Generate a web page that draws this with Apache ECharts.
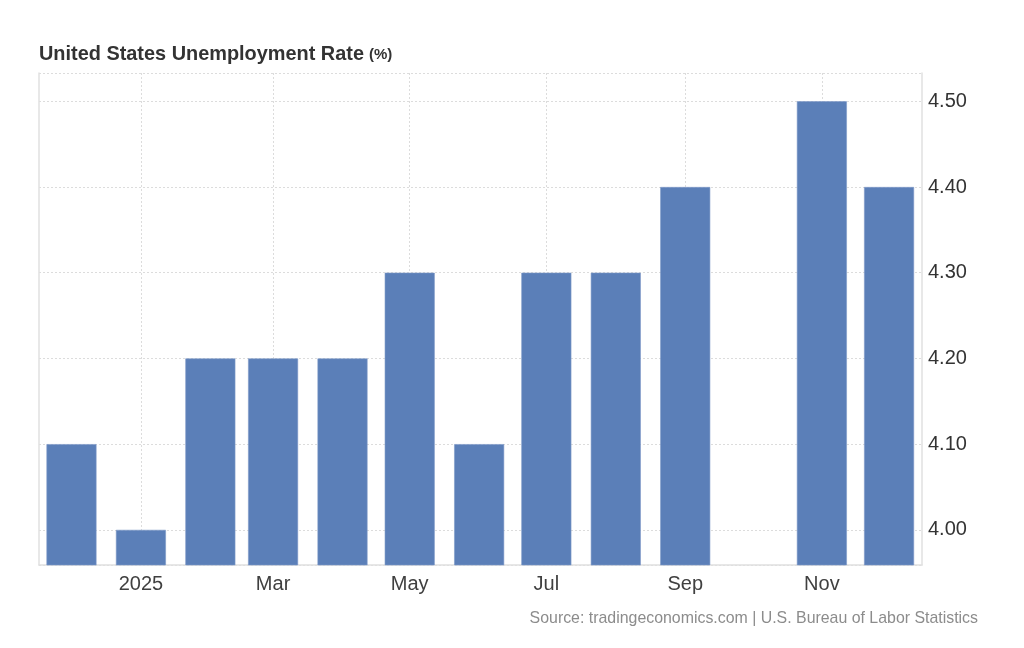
<!DOCTYPE html>
<html>
<head>
<meta charset="utf-8">
<script src="https://cdn.jsdelivr.net/npm/echarts@6/dist/echarts.min.js"></script>
<style>
html,body{margin:0;padding:0;background:#fff;}
#chart{width:1024px;height:648px;}
</style>
</head>
<body>
<div id="chart"></div>
<script>
// Data
const months = ['2024-12-01','2025-01-01','2025-02-01','2025-03-01','2025-04-01','2025-05-01','2025-06-01','2025-07-01','2025-08-01','2025-09-01','2025-11-01','2025-12-01'];
const rates = [4.1, 4.0, 4.2, 4.2, 4.2, 4.3, 4.1, 4.3, 4.3, 4.4, 4.5, 4.4];
const xTickDates = ['2025-01-01','2025-03-01','2025-05-01','2025-07-01','2025-09-01','2025-11-01'];
const xTickLabels = ['2025','Mar','May','Jul','Sep','Nov'];
const yMin = 3.959, yMax = 4.533;

const FONT = '"Liberation Sans", Arial, Helvetica, sans-serif';
const DAY = 86400000;
function toTime(s) { const p = s.split('-'); return Date.UTC(+p[0], +p[1]-1, +p[2]); }
const xMin = toTime('2024-12-01') - 14.5 * DAY;
const xMax = toTime('2025-12-01') + 14.7 * DAY;
const tickTimes = xTickDates.map(toTime);
const seriesData = months.map((m, i) => [toTime(m), rates[i]]);

const chart = echarts.init(document.getElementById('chart'), null, {renderer: 'canvas'});
chart.setOption({
  backgroundColor: '#fff',
  animation: false,
  title: [{
    left: 34, top: 40,
    text: '{a|United States Unemployment Rate} {b|(%)}',
    textStyle: {
      rich: {
        a: {fontFamily: FONT, fontSize: 19.9, fontWeight: 'bold', color: '#333'},
        b: {fontFamily: FONT, fontSize: 15, fontWeight: 'bold', color: '#333'}
      }
    }
  }, {
    right: 41, top: 606,
    text: 'Source: tradingeconomics.com | U.S. Bureau of Labor Statistics',
    textStyle: {fontFamily: FONT, fontSize: 15.9, fontWeight: 'normal', color: '#8c8c8c'}
  }],
  grid: {left: 39, right: 102, top: 73, bottom: 83, containLabel: false},
  xAxis: {
    type: 'value',
    min: xMin, max: xMax,
    axisLine: {show: true, onZero: false, lineStyle: {color: '#e0e0e0', width: 1.5}},
    axisTick: {show: false, customValues: tickTimes},
    axisLabel: {
      customValues: tickTimes,
      margin: 9,
      fontFamily: FONT, fontSize: 20, color: '#404040',
      formatter: function (v) {
        const idx = tickTimes.indexOf(v);
        return idx >= 0 ? xTickLabels[idx] : '';
      }
    },
    splitLine: {show: true, lineStyle: {color: '#dcdcdc', type: [2, 2], width: 1}}
  },
  yAxis: [{
    type: 'value',
    position: 'right',
    min: yMin, max: yMax,
    minInterval: 0.1, maxInterval: 0.1,
    axisLine: {show: true, lineStyle: {color: '#e0e0e0', width: 1.5}},
    axisTick: {show: false},
    axisLabel: {
      show: true, margin: 6, showMinLabel: false, showMaxLabel: false,
      fontFamily: FONT, fontSize: 20, color: '#333',
      formatter: v => v.toFixed(2)
    },
    splitLine: {show: true, lineStyle: {color: '#dcdcdc', type: [2, 2], width: 1}}
  }, {
    type: 'value',
    position: 'left',
    min: yMin, max: yMax,
    axisLine: {show: true, onZero: false, lineStyle: {color: '#e0e0e0', width: 1.5}},
    axisTick: {show: false},
    axisLabel: {show: false},
    splitLine: {show: false}
  }],
  series: [{
    type: 'bar',
    yAxisIndex: 0,
    data: seriesData,
    barWidth: 50,
    itemStyle: {color: '#5b7fb8', borderColor: '#7d99c8', borderWidth: 0.6}
  }]
});
</script>
</body>
</html>
